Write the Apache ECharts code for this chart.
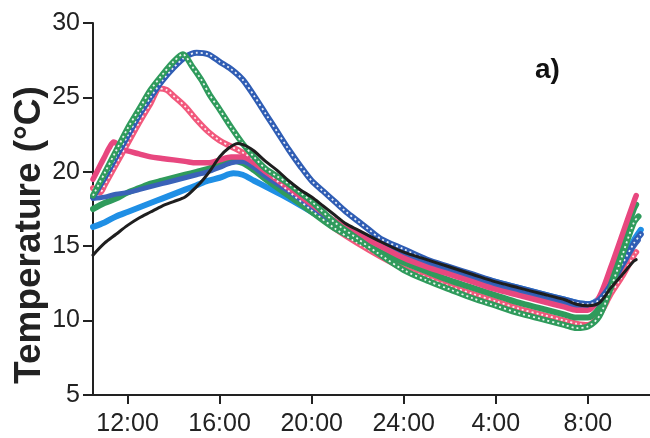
<!DOCTYPE html>
<html>
<head>
<meta charset="utf-8">
<script src="https://cdn.jsdelivr.net/npm/echarts@6/dist/echarts.min.js"></script>
<style>
html,body{margin:0;padding:0;background:#fff;}
#chart{width:650px;height:438px;}
</style>
</head>
<body>
<div id="chart"></div>
<script>
// hours since midnight of day 1 (24 = midnight, 32 = 8:00 next day)
const xTickHours = [12, 16, 20, 24, 28, 32];
const yTicks = [5, 10, 15, 20, 25, 30];
const yTitle = 'Temperature (°C)';
const panelLabel = 'a)';

const blueHigh = [[10.5,18.3],[11,19.6],[11.5,21.0],[12,22.4],[12.5,23.8],[13,25.0],[13.5,26.1],[14,27.0],[14.5,27.7],[15,28.0],[15.5,27.9],[16,27.4],[16.5,26.9],[17,26.2],[17.5,25.1],[18,23.9],[18.5,22.7],[19,21.5],[19.5,20.4],[20,19.4],[20.5,18.7],[21,18.0],[21.5,17.3],[22,16.7],[22.5,16.1],[23,15.5],[24,14.8],[25,14.1],[26,13.6],[27,13.1],[28,12.6],[29,12.2],[30,11.8],[31,11.4],[31.5,11.2],[32,11.1],[32.5,11.4],[33,12.4],[33.5,13.8],[34,15.2],[34.3,15.8]];
const greenTri = [[10.5,18.4],[11,19.9],[11.5,21.4],[12,22.9],[12.5,24.2],[13,25.5],[13.5,26.5],[14,27.4],[14.4,27.9],[14.8,27.1],[15.2,26.2],[15.6,25.1],[16,24.2],[16.5,23.0],[17,21.9],[17.5,21.0],[18,20.2],[18.5,19.7],[19,19.2],[19.5,18.6],[20,18.0],[21,16.6],[22,15.5],[23,14.4],[24,13.4],[25,12.7],[26,12.1],[27,11.5],[28,11.0],[29,10.5],[30,10.1],[31,9.7],[31.5,9.5],[32,9.6],[32.5,10.3],[33,12.2],[33.5,14.4],[34,16.6],[34.2,17.0]];
const redSquares = [[10.5,18.9],[10.8,18.6],[11,19.1],[11.5,20.5],[12,21.9],[12.5,23.3],[13,24.6],[13.4,25.6],[13.7,25.5],[14,25.1],[14.5,24.4],[15,23.5],[15.5,22.7],[16,22.1],[16.5,21.7],[17,21.3],[17.5,20.8],[18,20.1],[19,18.7],[20,17.4],[21,16.2],[22,15.2],[23,14.3],[24,13.5],[25,12.9],[26,12.3],[27,11.8],[28,11.3],[29,10.8],[30,10.4],[31,10.0],[31.5,9.8],[32,9.7],[32.5,10.4],[33,11.8],[33.5,13.0],[34,14.4],[34.1,14.6]];
const pinkLine = [[10.5,19.5],[10.8,20.4],[11,21.0],[11.2,21.6],[11.4,22.0],[11.6,21.8],[11.8,21.5],[12,21.4],[12.5,21.2],[13,21.0],[13.5,20.9],[14,20.8],[14.5,20.7],[15,20.6],[15.5,20.6],[16,20.8],[16.5,21.0],[17,21.0],[17.5,20.6],[18,20.0],[19,18.9],[20,17.8],[21,16.7],[22,15.8],[23,15.0],[24,14.2],[25,13.6],[26,13.1],[27,12.6],[28,12.1],[29,11.7],[30,11.3],[31,10.9],[31.5,10.7],[32,10.7],[32.5,11.6],[33,13.6],[33.5,15.8],[34,18.0],[34.1,18.4]];
const greenLow = [[10.5,17.5],[11,17.9],[11.5,18.2],[12,18.6],[12.5,18.9],[13,19.2],[13.5,19.4],[14,19.6],[14.5,19.8],[15,20.0],[15.5,20.2],[16,20.5],[16.4,20.8],[17,20.6],[17.5,20.1],[18,19.5],[19,18.4],[20,17.3],[21,16.2],[22,15.4],[23,14.6],[24,13.9],[25,13.3],[26,12.7],[27,12.2],[28,11.7],[29,11.2],[30,10.8],[31,10.4],[31.5,10.2],[32,10.2],[32.5,10.9],[33,12.9],[33.5,15.2],[34,17.5],[34.1,17.8]];
const blueLow = [[10.5,18.2],[11,18.3],[11.5,18.5],[12,18.6],[12.5,18.8],[13,19.0],[13.5,19.2],[14,19.4],[14.5,19.6],[15,19.8],[15.5,20.0],[16,20.3],[16.5,20.6],[17,20.7],[17.5,20.3],[18,19.7],[19,18.7],[20,17.6],[21,16.6],[22,15.8],[23,15.1],[24,14.4],[25,13.8],[26,13.3],[27,12.8],[28,12.3],[29,11.9],[30,11.5],[31,11.1],[31.5,10.9],[32,10.9],[32.5,11.3],[33,12.4],[33.5,13.7],[34,15.0],[34.2,15.4]];
const lightBlue = [[10.5,16.3],[11,16.6],[11.5,17.0],[12,17.3],[12.5,17.6],[13,17.9],[13.5,18.2],[14,18.5],[14.5,18.8],[15,19.1],[15.5,19.4],[16,19.6],[16.6,19.9],[17,19.8],[17.5,19.4],[18,19.0],[19,18.2],[20,17.3],[21,16.4],[22,15.7],[23,15.1],[24,14.4],[25,13.9],[26,13.4],[27,13.0],[28,12.6],[29,12.2],[30,11.8],[31,11.4],[31.5,11.2],[32,11.1],[32.5,11.5],[33,12.6],[33.5,14.0],[34,15.4],[34.3,16.1]];
const blackLine = [[10.5,14.4],[11,15.2],[11.5,15.8],[12,16.4],[12.5,16.9],[13,17.3],[13.5,17.7],[14,18.0],[14.5,18.3],[15,19.0],[15.3,19.5],[15.6,20.1],[16,21.0],[16.4,21.6],[16.8,21.9],[17.2,21.7],[17.5,21.4],[18,20.7],[18.5,20.1],[19,19.4],[19.5,18.8],[20,18.3],[20.5,17.7],[21,17.1],[21.5,16.5],[22,16.1],[23,15.3],[24,14.6],[25,14.1],[26,13.6],[27,13.1],[28,12.6],[29,12.2],[30,11.8],[31,11.4],[31.5,11.1],[32,11.0],[32.5,11.2],[33,12.2],[33.5,13.1],[34,14.0],[34.1,14.1]];

const FONT = 'Liberation Sans, Arial, sans-serif';

function lineSeries(data, color, width, z) {
  return { type:'line', data:data, smooth:0.3, symbol:'none', z:z,
    lineStyle:{color:color, width:width, cap:'round', join:'round'} };
}
function dotSeries(data, z) {
  return { type:'line', data:data, smooth:0.3, symbol:'none', z:z,
    lineStyle:{color:'#ffffff', width:1.8, type:[2,3], opacity:0.9} };
}

const chart = echarts.init(document.getElementById('chart'), null, {renderer:'canvas'});
chart.setOption({
  animation:false,
  backgroundColor:'#ffffff',
  grid:{left:93, right:0, top:23, bottom:43, containLabel:false},
  xAxis:{
    type:'value', min:10.5, max:34.7,
    axisLine:{show:true, lineStyle:{color:'#222', width:2}},
    axisTick:{show:true, length:9, lineStyle:{color:'#222', width:2}, customValues:xTickHours},
    axisLabel:{customValues:xTickHours, color:'#222', fontSize:25, fontFamily:FONT, margin:17,
      formatter:function(v){ let h = v > 24 ? v - 24 : v; return h + ':00'; }},
    splitLine:{show:false}
  },
  yAxis:{
    type:'value', min:5, max:30, interval:5,
    axisLine:{show:true, lineStyle:{color:'#222', width:2}},
    axisTick:{show:true, length:10, lineStyle:{color:'#222', width:2}},
    axisLabel:{color:'#222', fontSize:25, fontFamily:FONT, margin:13},
    splitLine:{show:false}
  },
  graphic:[
    {type:'text', x:30, y:235, rotation:Math.PI/2,
      style:{text:yTitle, fill:'#222', font:'bold 37px ' + FONT, align:'center', verticalAlign:'middle'}},
    {type:'text', left:535, top:56, style:{text:panelLabel, fill:'#111', font:'bold 28px ' + FONT}}
  ],
  series:[
    lineSeries(redSquares, '#f2587c', 6, 2),
    dotSeries(redSquares, 3),
    lineSeries(lightBlue, '#1f8fe5', 6, 2),
    lineSeries(greenLow, '#2f9b5c', 6, 2),
    lineSeries(blueLow, '#3a62b8', 5, 2),
    lineSeries(pinkLine, '#e8477f', 5.5, 2),
    lineSeries(blueHigh, '#2f5db4', 6, 3),
    dotSeries(blueHigh, 3),
    lineSeries(greenTri, '#2f9b5c', 6, 4),
    dotSeries(greenTri, 5),
    lineSeries(blackLine, '#1e1e1e', 3, 6)
  ]
});
</script>
</body>
</html>
